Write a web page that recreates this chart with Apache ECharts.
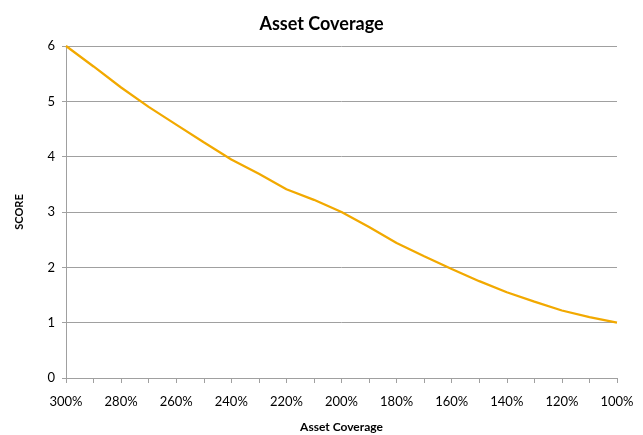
<!DOCTYPE html>
<html>
<head>
<meta charset="utf-8">
<script src="https://cdn.jsdelivr.net/npm/echarts@6/dist/echarts.min.js"></script>
<style>
html,body{margin:0;padding:0;background:#fff;}
#c{width:643px;height:435px;}
</style>
</head>
<body>
<div id="c"></div>
<script>
const categories = ['300%','290%','280%','270%','260%','250%','240%','230%','220%','210%','200%','190%','180%','170%','160%','150%','140%','130%','120%','110%','100%'];
const scores = [6, 5.63, 5.25, 4.9, 4.58, 4.26, 3.95, 3.69, 3.41, 3.22, 3.0, 2.73, 2.44, 2.2, 1.97, 1.75, 1.55, 1.38, 1.22, 1.1, 1.0];
const yTicks = [0, 1, 2, 3, 4, 5, 6];
const titleText = 'Asset Coverage';
const xName = 'Asset Coverage';
const yName = 'SCORE';

const FONT = 'Lato, "Open Sans", sans-serif';
const chart = echarts.init(document.getElementById('c'), null, {renderer: 'canvas'});
chart.setOption({
  animation: false,
  backgroundColor: '#ffffff',
  title: {
    text: titleText,
    left: 'center',
    top: 10,
    textStyle: {fontFamily: FONT, fontWeight: 'bold', fontSize: 18, color: '#000'}
  },
  grid: {left: 66, right: 26, top: 46, bottom: 57, containLabel: false, outerBoundsMode: 'none'},
  xAxis: {
    type: 'category',
    data: categories,
    boundaryGap: false,
    name: xName,
    nameLocation: 'middle',
    nameGap: 43,
    nameTextStyle: {fontFamily: FONT, fontWeight: 'bold', fontSize: 12, color: '#000'},
    axisLine: {lineStyle: {color: '#a0a0a0', width: 1}},
    axisTick: {show: true, interval: 0, length: 5, lineStyle: {color: '#a0a0a0'}},
    axisLabel: {interval: 1, margin: 17, fontFamily: FONT, fontSize: 13, color: '#000'},
    splitLine: {show: false}
  },
  yAxis: {
    type: 'value',
    min: yTicks[0],
    max: yTicks[yTicks.length - 1],
    interval: 1,
    name: yName,
    nameLocation: 'middle',
    nameGap: 41,
    nameRotate: 90,
    nameTextStyle: {fontFamily: FONT, fontWeight: 'bold', fontSize: 11, color: '#000'},
    axisLine: {show: true, lineStyle: {color: '#a0a0a0', width: 1}},
    axisTick: {show: true, length: 4, lineStyle: {color: '#a0a0a0'}},
    axisLabel: {margin: 11, fontFamily: FONT, fontSize: 13, color: '#000'},
    splitLine: {show: true, lineStyle: {color: '#a0a0a0', width: 1}}
  },
  series: [{
    type: 'line',
    data: scores,
    symbol: 'none',
    smooth: false,
    lineStyle: {color: '#f2a900', width: 2.25},
    itemStyle: {color: '#f2a900'}
  }]
});
</script>
</body>
</html>
